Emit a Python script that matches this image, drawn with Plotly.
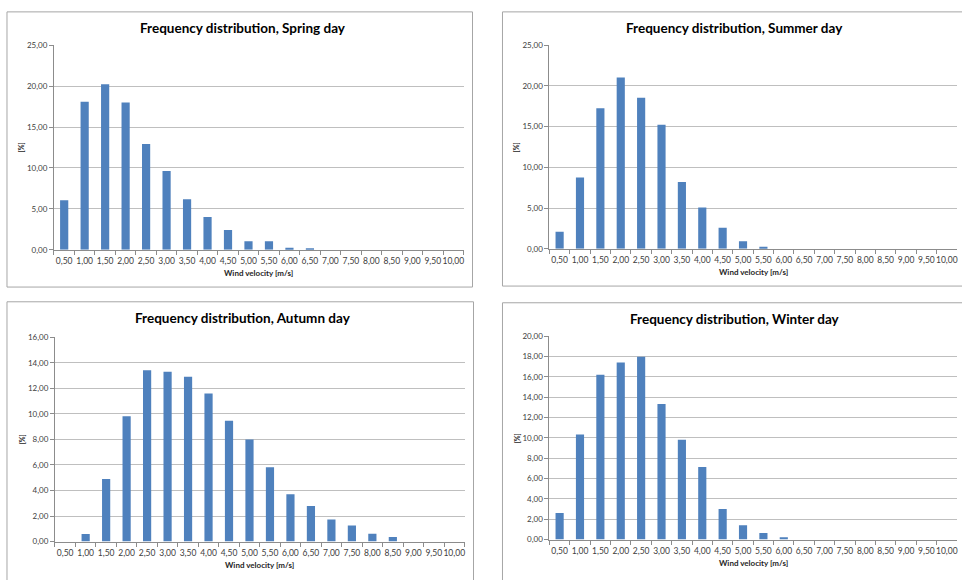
import plotly.graph_objects as go

# ---------------- data ----------------
velocity_labels = ["0,50", "1,00", "1,50", "2,00", "2,50", "3,00", "3,50", "4,00", "4,50", "5,00",
                   "5,50", "6,00", "6,50", "7,00", "7,50", "8,00", "8,50", "9,00", "9,50", "10,00"]

spring = [6.05, 18.11, 20.23, 17.99, 12.94, 9.62, 6.17, 4.00, 2.40, 1.04,
          1.04, 0.24, 0.10, 0.0, 0.0, 0.0, 0.0, 0.0, 0.0, 0.0]
summer = [2.09, 8.74, 17.27, 21.05, 18.56, 15.22, 8.21, 5.07, 2.58, 0.93,
          0.24, 0.0, 0.0, 0.0, 0.0, 0.0, 0.0, 0.0, 0.0, 0.0]
autumn = [0.0, 0.59, 4.89, 9.81, 13.42, 13.29, 12.90, 11.60, 9.45, 7.99,
          5.81, 3.71, 2.79, 1.72, 1.25, 0.61, 0.36, 0.0, 0.0, 0.0]
winter = [2.61, 10.34, 16.20, 17.42, 17.97, 13.33, 9.82, 7.15, 3.00, 1.42,
          0.64, 0.23, 0.0, 0.0, 0.0, 0.0, 0.0, 0.0, 0.0, 0.0]

titles = ["Frequency distribution, Spring day", "Frequency distribution, Summer day",
          "Frequency distribution, Autumn day", "Frequency distribution, Winter day"]
y_max = [25, 25, 16, 20]
y_step = [5, 5, 2, 2]
x_title = "Wind velocity [m/s]"
y_title = "[%]"

# ---------------- layout helpers ----------------
W, H = 962, 580
def px(x):
    return x / W
def py(y):
    return 1 - y / H

FONT = "Lato, 'Open Sans', sans-serif"
BAR = "#4F81BD"
GRID = "#BFBFBF"
AX = "#8C8C8C"

# plot areas in pixels: (left, right, top, bottom)
areas = [(54, 464, 41, 249), (550, 958, 41, 248), (55, 465, 338, 546), (550, 958, 337, 544)]
boxes = [(7, 473, 7, 287), (503, 975, 7, 286), (7, 474, 302, 590), (503, 975, 303, 590)]
series = [spring, summer, autumn, winter]

fig = go.Figure()
annotations = []
shapes = []

for i, (vals, (l, r, t, b)) in enumerate(zip(series, areas)):
    n = "" if i == 0 else str(i + 1)
    fig.add_trace(go.Bar(x=velocity_labels, y=vals, xaxis="x" + n, yaxis="y" + n,
                         marker=dict(color=BAR, line=dict(width=0)),
                         showlegend=False, hovertemplate="%{x}: %{y:.2f}<extra></extra>"))
    fig.layout["xaxis" + n] = dict(
        domain=[px(l), px(r)], anchor="y" + n, type="category",
        tickson="boundaries", ticks="outside", ticklen=4, tickcolor=AX,
        showline=True, linecolor=AX, linewidth=1, showgrid=False,
        tickfont=dict(family=FONT, size=8.5, color="#404040"), tickangle=0,
        ticklabelstandoff=3, fixedrange=True)
    fig.layout["yaxis" + n] = dict(
        domain=[py(b), py(t)], anchor="x" + n, range=[0, y_max[i]], dtick=y_step[i],
        tickformat=".2f", ticks="outside", ticklen=4, tickcolor=AX,
        showline=True, linecolor=AX, linewidth=1,
        showgrid=True, gridcolor=GRID, gridwidth=1, zeroline=False,
        tickfont=dict(family=FONT, size=8, color="#404040"), fixedrange=True)

    cx = (l + r) / 2
    bl, br, bt, bb = boxes[i]
    # chart title
    annotations.append(dict(text="<b>" + titles[i] + "</b>", x=px((bl + min(br, 962)) / 2 + 3), y=py(bt + 16),
                            xref="paper", yref="paper", showarrow=False,
                            font=dict(family=FONT, size=13.5, color="#000000"),
                            xanchor="center", yanchor="middle"))
    # x axis title
    annotations.append(dict(text="<b>" + x_title + "</b>", x=px(cx), y=py(b + 24),
                            xref="paper", yref="paper", showarrow=False,
                            font=dict(family=FONT, size=8, color="#262626"),
                            xanchor="center", yanchor="middle"))
    # y axis title
    annotations.append(dict(text="<b>" + y_title + "</b>", x=px(l - 33), y=py((t + b) / 2),
                            xref="paper", yref="paper", showarrow=False, textangle=-90,
                            font=dict(family=FONT, size=7, color="#262626"),
                            xanchor="center", yanchor="middle"))
    # panel border
    shapes.append(dict(type="rect", xref="paper", yref="paper",
                       x0=px(bl), x1=px(br), y0=py(bb), y1=py(bt),
                       line=dict(color="#A6A6A6", width=1), fillcolor="rgba(0,0,0,0)"))

fig.update_layout(
    width=W, height=H, autosize=False,
    margin=dict(l=0, r=0, t=0, b=0),
    paper_bgcolor="white", plot_bgcolor="white",
    separators=", ", bargap=0.6,
    annotations=annotations, shapes=shapes,
    font=dict(family=FONT),
)

fig.write_html("out.html", config={"displayModeBar": False},
               post_script="document.body.style.margin='0';document.body.style.overflow='hidden';")
